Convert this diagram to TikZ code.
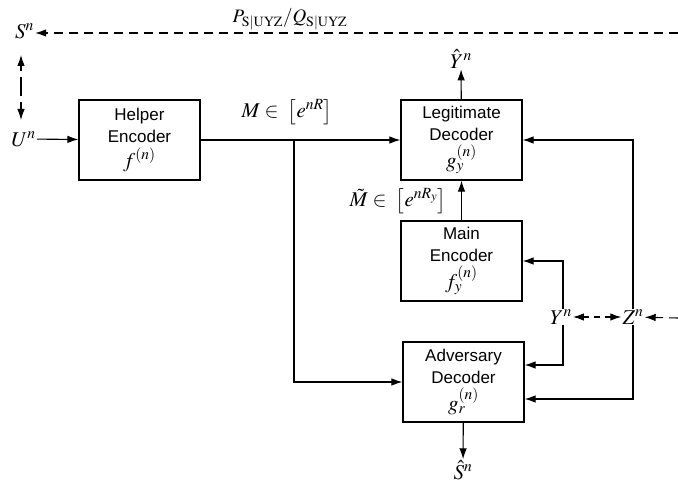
\documentclass[tikz,border=0pt]{standalone}
\usepackage{mathptmx}
\usepackage{fontspec}
\setmainfont{Liberation Serif}
\setsansfont{Liberation Sans}
\usetikzlibrary{arrows.meta,calc}
\newcommand{\mline}[1]{{\fontsize{21}{22}\selectfont$#1$}}
\tikzset{
  blk/.style={draw, line width=1.2pt, minimum width=121pt, minimum height=80pt, align=center,
    font=\sffamily\fontsize{17}{22}\selectfont, inner sep=0pt},
  lbl/.style={inner sep=1pt, font=\fontsize{21}{24}\selectfont},
  con/.style={line width=1.1pt},
  tip/.tip={Latex[length=11pt,width=7.5pt]},
  arr/.style={con, -tip},
  darr/.style={con, dash pattern=on 9pt off 6pt},
}
\begin{document}
\begin{tikzpicture}[x=1pt,y=-1pt]
\useasboundingbox (0,0) rectangle (678,489);
% boxes
\node[blk] (helper) at (139.5,140) {Helper\\Encoder\\[3pt]\mline{f^{(n)}}};
\node[blk] (legit) at (461.5,140) {Legitimate\\Decoder\\[3pt]\mline{g_y^{(n)}}};
\node[blk] (main) at (461.5,261) {Main\\Encoder\\[3pt]\mline{f_y^{(n)}}};
\node[blk] (adv) at (463.5,382) {Adversary\\Decoder\\[3pt]\mline{g_r^{(n)}}};
% labels
\node[lbl] (S) at (24.5,31) {$S^n$};
\node[lbl] (U) at (23.5,139) {$U^n$};
\node[lbl] (Yhat) at (461,59) {$\hat{Y}^n$};
\node[lbl] (Shat) at (463,470) {$\hat{S}^n$};
\node[lbl] (Y) at (561,317) {$Y^n$};
\node[lbl] (Z) at (633,317) {$Z^n$};
\node[lbl, font=\fontsize{19}{22}\selectfont] (PQ) at (290,19) {$P_{\mathrm{S|UYZ}}/Q_{\mathrm{S|UYZ}}$};
\node[lbl] (ML) at (287,112) {$M\in\;\big[e^{nR}\big]$};
\node[lbl] (MtL) at (398,201) {$\tilde{M}\in\;\big[e^{nR_y}\big]$};
% coordinates
\coordinate (rt) at (678,33);
\coordinate (rz) at (678,318);
\coordinate (br) at (294,140);
\coordinate (su1) at (21,55);
\coordinate (su2) at (21,120);
% connectors
\draw[darr, -tip] (rt) -- (rt -| S.east);
\draw[darr, dash pattern=on 19pt off 6pt, dash phase=13pt, tip-tip] (su1) -- (su2);
\draw[arr] (U) -- (helper);
\draw[arr] (helper) -- (legit);
\draw[arr] (br) |- (adv.west);
\draw[arr] (main) -- (legit);
\draw[arr] (legit) -- (Yhat);
\draw[arr] (adv) -- (Shat);
\draw[arr] ([xshift=2pt]Y.north) |- (main.east);
\draw[arr] ([xshift=2pt]Y.south) |- ([yshift=17pt]adv.east);
\draw[arr] (Z.north) |- (legit.east);
\draw[arr] (Z.south) |- ([yshift=-17pt]adv.east);
\draw[darr, dash pattern=on 6pt off 5pt, tip-tip] (Y) -- (Z);
\draw[darr, -tip] (rz) -- (Z);
\end{tikzpicture}
\end{document}
